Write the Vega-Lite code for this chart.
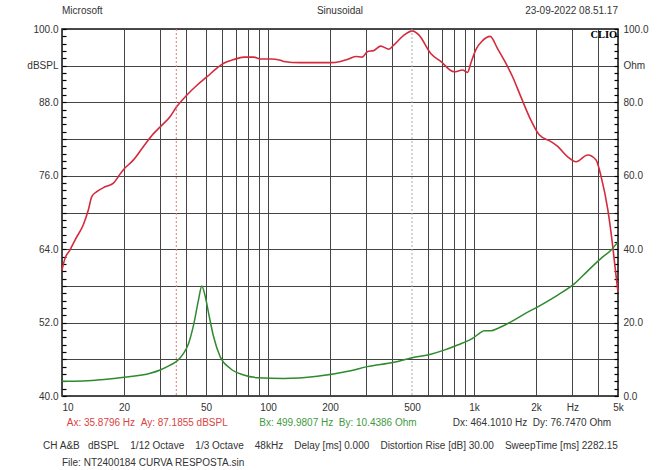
{
  "$schema": "https://vega.github.io/schema/vega-lite/v6.json",
  "width": 556,
  "height": 367,
  "autosize": {"type": "none"},
  "padding": {"left": 62, "top": 29, "right": 42, "bottom": 74},
  "background": "white",
  "config": {
    "view": {"stroke": "#111111", "strokeWidth": 1.5},
    "font": "Liberation Sans",
    "axis": {"labelFont": "Liberation Sans", "labelFontSize": 10, "labelColor": "#333333"}
  },
  "datasets": {
    "spl": [
      {"f": 10, "spl": 60.6}, {"f": 10.34, "spl": 62.5}, {"f": 10.94, "spl": 63.9}, {"f": 11.7, "spl": 65.8},
      {"f": 12.69, "spl": 68.0}, {"f": 13.42, "spl": 70.4}, {"f": 13.95, "spl": 72.6}, {"f": 14.75, "spl": 73.4},
      {"f": 16.19, "spl": 74.2}, {"f": 17.77, "spl": 74.8}, {"f": 18.79, "spl": 75.9}, {"f": 19.87, "spl": 77.0},
      {"f": 22.23, "spl": 78.6}, {"f": 24.86, "spl": 80.8}, {"f": 27.8, "spl": 82.9}, {"f": 29.97, "spl": 84.0},
      {"f": 33.52, "spl": 85.7}, {"f": 35.88, "spl": 87.2}, {"f": 40.4, "spl": 89.2}, {"f": 45.2, "spl": 90.8},
      {"f": 50.6, "spl": 92.2}, {"f": 56.5, "spl": 93.6}, {"f": 60.9, "spl": 94.4}, {"f": 68.1, "spl": 95.0},
      {"f": 76.2, "spl": 95.4}, {"f": 85.2, "spl": 95.4}, {"f": 91.8, "spl": 95.1}, {"f": 102.7, "spl": 95.1},
      {"f": 114.9, "spl": 94.9}, {"f": 119.2, "spl": 94.7}, {"f": 143.8, "spl": 94.5}, {"f": 173.3, "spl": 94.5},
      {"f": 201.2, "spl": 94.5}, {"f": 224.9, "spl": 94.7}, {"f": 242.5, "spl": 95.0}, {"f": 266.2, "spl": 95.5},
      {"f": 286.9, "spl": 95.4}, {"f": 303.4, "spl": 96.3}, {"f": 326.7, "spl": 96.5}, {"f": 352.2, "spl": 97.2},
      {"f": 386.4, "spl": 96.7}, {"f": 408.7, "spl": 97.4}, {"f": 457.1, "spl": 99.0}, {"f": 502.2, "spl": 99.7},
      {"f": 540.8, "spl": 99.0}, {"f": 616.5, "spl": 96.0}, {"f": 689.5, "spl": 94.7}, {"f": 800.4, "spl": 93.0},
      {"f": 879.4, "spl": 93.3}, {"f": 930, "spl": 92.9}, {"f": 964.7, "spl": 94.4}, {"f": 1020, "spl": 96.6},
      {"f": 1100, "spl": 98.1}, {"f": 1198, "spl": 98.8}, {"f": 1301, "spl": 96.8}, {"f": 1401, "spl": 94.9},
      {"f": 1539, "spl": 92.2}, {"f": 1689, "spl": 88.9}, {"f": 1889, "spl": 85.1}, {"f": 2073, "spl": 82.7},
      {"f": 2363, "spl": 81.6}, {"f": 2548, "spl": 80.8}, {"f": 2850, "spl": 79.1}, {"f": 3127, "spl": 78.3},
      {"f": 3565, "spl": 79.4}, {"f": 3913, "spl": 78.6}, {"f": 4137, "spl": 75.9}, {"f": 4460, "spl": 70.5},
      {"f": 4716, "spl": 64.4}, {"f": 4870, "spl": 60.2}, {"f": 5000, "spl": 57.0}
    ],
    "imp": [
      {"f": 10, "ohm": 4.0}, {"f": 12.69, "ohm": 4.1}, {"f": 16, "ohm": 4.5}, {"f": 20, "ohm": 5.1},
      {"f": 26.8, "ohm": 6.2}, {"f": 29.97, "ohm": 7.1}, {"f": 33.5, "ohm": 8.4}, {"f": 36.1, "ohm": 9.5},
      {"f": 38.9, "ohm": 11.6}, {"f": 41.2, "ohm": 14.4}, {"f": 43.5, "ohm": 19.3}, {"f": 46.0, "ohm": 26.2},
      {"f": 47.7, "ohm": 30.0}, {"f": 49.6, "ohm": 27.1}, {"f": 51.5, "ohm": 22.5}, {"f": 54.4, "ohm": 16.2},
      {"f": 58.6, "ohm": 10.7}, {"f": 65.6, "ohm": 7.5}, {"f": 76.2, "ohm": 5.7}, {"f": 88.6, "ohm": 5.0},
      {"f": 119.2, "ohm": 4.8}, {"f": 173.3, "ohm": 5.4}, {"f": 251.9, "ohm": 6.9}, {"f": 303.4, "ohm": 8.0},
      {"f": 408.7, "ohm": 9.2}, {"f": 500, "ohm": 10.44}, {"f": 616.5, "ohm": 11.4}, {"f": 716, "ohm": 12.5},
      {"f": 832, "ohm": 13.9}, {"f": 1001, "ohm": 16.0}, {"f": 1070, "ohm": 17.2}, {"f": 1121, "ohm": 17.8},
      {"f": 1210, "ohm": 17.8}, {"f": 1301, "ohm": 18.4}, {"f": 1509, "ohm": 20.2}, {"f": 1751, "ohm": 22.3},
      {"f": 2070, "ohm": 24.5}, {"f": 2548, "ohm": 27.5}, {"f": 3085, "ohm": 30.7}, {"f": 3565, "ohm": 34.1},
      {"f": 4137, "ohm": 37.5}, {"f": 4633, "ohm": 39.8}, {"f": 5000, "ohm": 42.0}
    ],
    "cursors": [
      {"name": "A", "f": 35.8796},
      {"name": "B", "f": 499.9807}
    ],
    "texts": [
      {"key": "left", "label": "Microsoft"},
      {"key": "mid", "label": "Sinusoidal"},
      {"key": "right", "label": "23-09-2022 08.51.17"},
      {"key": "clio", "label": "CLIO"},
      {"key": "ax", "label": "Ax: 35.8796 Hz\u00a0\u00a0Ay: 87.1855 dBSPL"},
      {"key": "bx", "label": "Bx: 499.9807 Hz\u00a0\u00a0By: 10.4386 Ohm"},
      {"key": "dx", "label": "Dx: 464.1010 Hz\u00a0\u00a0Dy: 76.7470 Ohm"},
      {"key": "ch", "label": "CH A&B\u00a0\u00a0\u00a0dBSPL\u00a0\u00a0\u00a0\u00a01/12 Octave\u00a0\u00a0\u00a0\u00a01/3 Octave\u00a0\u00a0\u00a0\u00a048kHz\u00a0\u00a0\u00a0\u00a0Delay [ms] 0.000\u00a0\u00a0\u00a0\u00a0Distortion Rise [dB] 30.00\u00a0\u00a0\u00a0\u00a0SweepTime [ms] 2282.15"},
      {"key": "file", "label": "File: NT2400184 CURVA RESPOSTA.sin"}
    ]
  },
  "layer": [
    {
      "layer": [
        {
          "data": {"name": "spl"},
          "mark": {"type": "line", "color": "#d42a3c", "strokeWidth": 1.6, "interpolate": "monotone"},
          "encoding": {
            "x": {
              "field": "f", "type": "quantitative", "title": null,
              "scale": {"type": "log", "domain": [10, 5000], "nice": false},
              "axis": {
                "title": null,
                "values": [10, 20, 30, 40, 50, 60, 70, 80, 90, 100, 200, 300, 400, 500, 600, 700, 800, 900, 1000, 2000, 3000, 4000, 5000],
                "tickCount": 1000,
                "grid": true,
                "gridColor": "#444444",
                "gridWidth": 1,
                "gridOpacity": {"condition": {"test": "datum.value == 500", "value": 0}, "value": 1},
                "ticks": false,
                "domain": false,
                "labelPadding": 6,
                "labelOverlap": false,
                "labelFlush": false,
                "labelBound": false,
                "labelAlign": {"condition": {"test": "datum.value == 10", "value": "left"}, "value": "center"},
                "labelExpr": "datum.value == 1000 ? '1k' : datum.value == 2000 ? '2k' : datum.value == 3000 ? 'Hz' : datum.value == 5000 ? '5k' : (datum.value == 10 || datum.value == 20 || datum.value == 50 || datum.value == 100 || datum.value == 200 || datum.value == 500) ? '' + datum.value : ''"
              }
            },
            "y": {
              "field": "spl", "type": "quantitative", "title": null,
              "scale": {"domain": [40, 100], "nice": false, "zero": false},
              "axis": {
                "title": null,
                "orient": "left",
                "offset": -4,
                "values": [40, 41.2, 42.4, 43.6, 44.8, 46, 47.2, 48.4, 49.6, 50.8, 52, 53.2, 54.4, 55.6, 56.8, 58, 59.2, 60.4, 61.6, 62.8, 64, 65.2, 66.4, 67.6, 68.8, 70, 71.2, 72.4, 73.6, 74.8, 76, 77.2, 78.4, 79.6, 80.8, 82, 83.2, 84.4, 85.6, 86.8, 88, 89.2, 90.4, 91.6, 92.8, 94, 95.2, 96.4, 97.6, 98.8, 100],
                "tickCount": 1000,
                "grid": true,
                "gridColor": "#444444",
                "gridWidth": 1,
                "gridOpacity": {"condition": {"test": "abs((datum.value - 40) / 6 - round((datum.value - 40) / 6)) < 0.01", "value": 1}, "value": 0},
                "ticks": true,
                "tickSize": 4,
                "tickWidth": 1.2,
                "tickOpacity": 1,
                "tickColor": "#000000",
                "domain": false,
                "labelPadding": 4,
                "labelOverlap": false,
                "labelBound": false,
                "labelFlush": false,
                "labelExpr": "abs((datum.value - 40) / 12 - round((datum.value - 40) / 12)) < 0.01 ? format(datum.value, '.1f') : (abs(datum.value - 94) < 0.01 ? 'dBSPL' : '')"
              }
            }
          }
        },
        {
          "data": {"name": "cursors"},
          "transform": [{"filter": "datum.name == 'A'"}],
          "mark": {"type": "rule", "color": "#e07a7a", "strokeDash": [2, 2], "strokeWidth": 1},
          "encoding": {
            "x": {"field": "f", "type": "quantitative", "title": null, "scale": {"type": "log", "domain": [10, 5000], "nice": false}}
          }
        },
        {
          "data": {"name": "cursors"},
          "transform": [{"filter": "datum.name == 'B'"}],
          "mark": {"type": "rule", "color": "#aaaaaa", "strokeDash": [2, 2], "strokeWidth": 1},
          "encoding": {
            "x": {"field": "f", "type": "quantitative", "title": null, "scale": {"type": "log", "domain": [10, 5000], "nice": false}}
          }
        },
        {
          "data": {"name": "texts"},
          "transform": [{"filter": "datum.key == 'left'"}],
          "mark": {"type": "text", "align": "left", "baseline": "middle", "fontSize": 10, "color": "#333333"},
          "encoding": {
            "x": {"datum": 10, "type": "quantitative", "title": null, "scale": {"type": "log", "domain": [10, 5000], "nice": false}},
            "y": {"datum": 102.94, "type": "quantitative", "title": null, "scale": {"domain": [40, 100], "nice": false, "zero": false}},
            "text": {"field": "label"}
          }
        },
        {
          "data": {"name": "texts"},
          "transform": [{"filter": "datum.key == 'mid'"}],
          "mark": {"type": "text", "align": "center", "baseline": "middle", "fontSize": 10, "color": "#333333"},
          "encoding": {
            "x": {"datum": 223.6, "type": "quantitative", "title": null, "scale": {"type": "log", "domain": [10, 5000], "nice": false}},
            "y": {"datum": 102.94, "type": "quantitative", "title": null, "scale": {"domain": [40, 100], "nice": false, "zero": false}},
            "text": {"field": "label"}
          }
        },
        {
          "data": {"name": "texts"},
          "transform": [{"filter": "datum.key == 'right'"}],
          "mark": {"type": "text", "align": "right", "baseline": "middle", "fontSize": 10, "color": "#333333"},
          "encoding": {
            "x": {"datum": 5000, "type": "quantitative", "title": null, "scale": {"type": "log", "domain": [10, 5000], "nice": false}},
            "y": {"datum": 102.94, "type": "quantitative", "title": null, "scale": {"domain": [40, 100], "nice": false, "zero": false}},
            "text": {"field": "label"}
          }
        },
        {
          "data": {"name": "texts"},
          "transform": [{"filter": "datum.key == 'clio'"}],
          "mark": {"type": "text", "align": "right", "baseline": "middle", "fontSize": 10.5, "font": "Liberation Serif", "fontWeight": "bold", "color": "#000000"},
          "encoding": {
            "x": {"datum": 4960, "type": "quantitative", "title": null, "scale": {"type": "log", "domain": [10, 5000], "nice": false}},
            "y": {"datum": 99.0, "type": "quantitative", "title": null, "scale": {"domain": [40, 100], "nice": false, "zero": false}},
            "text": {"field": "label"}
          }
        },
        {
          "data": {"name": "texts"},
          "transform": [{"filter": "datum.key == 'ax'"}],
          "mark": {"type": "text", "align": "left", "baseline": "middle", "fontSize": 10, "color": "#d94343"},
          "encoding": {
            "x": {"datum": 10.54, "type": "quantitative", "title": null, "scale": {"type": "log", "domain": [10, 5000], "nice": false}},
            "y": {"datum": 35.6, "type": "quantitative", "title": null, "scale": {"domain": [40, 100], "nice": false, "zero": false}},
            "text": {"field": "label"}
          }
        },
        {
          "data": {"name": "texts"},
          "transform": [{"filter": "datum.key == 'bx'"}],
          "mark": {"type": "text", "align": "left", "baseline": "middle", "fontSize": 10, "color": "#3f9a3f"},
          "encoding": {
            "x": {"datum": 90.7, "type": "quantitative", "title": null, "scale": {"type": "log", "domain": [10, 5000], "nice": false}},
            "y": {"datum": 35.6, "type": "quantitative", "title": null, "scale": {"domain": [40, 100], "nice": false, "zero": false}},
            "text": {"field": "label"}
          }
        },
        {
          "data": {"name": "texts"},
          "transform": [{"filter": "datum.key == 'dx'"}],
          "mark": {"type": "text", "align": "left", "baseline": "middle", "fontSize": 10, "color": "#333333"},
          "encoding": {
            "x": {"datum": 788, "type": "quantitative", "title": null, "scale": {"type": "log", "domain": [10, 5000], "nice": false}},
            "y": {"datum": 35.6, "type": "quantitative", "title": null, "scale": {"domain": [40, 100], "nice": false, "zero": false}},
            "text": {"field": "label"}
          }
        },
        {
          "data": {"name": "texts"},
          "transform": [{"filter": "datum.key == 'ch'"}],
          "mark": {"type": "text", "align": "left", "baseline": "middle", "fontSize": 10, "color": "#333333"},
          "encoding": {
            "x": {"datum": 8.09, "type": "quantitative", "title": null, "scale": {"type": "log", "domain": [10, 5000], "nice": false}},
            "y": {"datum": 31.75, "type": "quantitative", "title": null, "scale": {"domain": [40, 100], "nice": false, "zero": false}},
            "text": {"field": "label"}
          }
        },
        {
          "data": {"name": "texts"},
          "transform": [{"filter": "datum.key == 'file'"}],
          "mark": {"type": "text", "align": "left", "baseline": "middle", "fontSize": 10, "color": "#333333"},
          "encoding": {
            "x": {"datum": 10, "type": "quantitative", "title": null, "scale": {"type": "log", "domain": [10, 5000], "nice": false}},
            "y": {"datum": 29.1, "type": "quantitative", "title": null, "scale": {"domain": [40, 100], "nice": false, "zero": false}},
            "text": {"field": "label"}
          }
        }
      ]
    },
    {
      "data": {"name": "imp"},
      "mark": {"type": "line", "color": "#2f8a2f", "strokeWidth": 1.5, "interpolate": "monotone"},
      "encoding": {
        "x": {"field": "f", "type": "quantitative", "title": null, "scale": {"type": "log", "domain": [10, 5000], "nice": false}},
        "y": {
          "field": "ohm", "type": "quantitative", "title": null,
          "scale": {"domain": [0, 100], "nice": false},
          "axis": {
            "title": null,
            "orient": "right",
            "offset": -4,
            "values": [0, 2, 4, 6, 8, 10, 12, 14, 16, 18, 20, 22, 24, 26, 28, 30, 32, 34, 36, 38, 40, 42, 44, 46, 48, 50, 52, 54, 56, 58, 60, 62, 64, 66, 68, 70, 72, 74, 76, 78, 80, 82, 84, 86, 88, 90, 92, 94, 96, 98, 100],
            "tickCount": 1000,
            "grid": false,
            "ticks": true,
            "tickSize": 4,
            "tickWidth": 1.2,
            "tickOpacity": 1,
            "tickColor": "#000000",
            "domain": false,
            "labelPadding": 5,
            "labelOverlap": false,
            "labelBound": false,
            "labelFlush": false,
            "labelExpr": "datum.value % 20 == 0 ? format(datum.value, '.1f') : (datum.value == 90 ? 'Ohm' : '')"
          }
        }
      }
    }
  ],
  "resolve": {"scale": {"y": "independent"}}
}
